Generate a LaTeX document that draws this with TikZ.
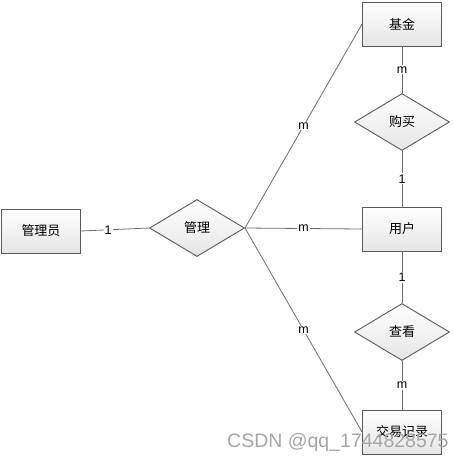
\documentclass[tikz,border=0pt]{standalone}
\usepackage{fontspec}
\setmainfont{Liberation Sans}
\newfontfamily\cjk{Noto Sans CJK SC}
\usetikzlibrary{shapes.geometric}
\definecolor{edgec}{HTML}{6E6E6E}
\definecolor{boxc}{HTML}{5A5A5A}
\tikzset{
  x=1pt, y=-1pt,
  ent/.style={draw=boxc, line width=0.9pt, top color=white, bottom color=black!10, minimum width=79pt, minimum height=44pt, inner sep=0pt, font=\cjk\fontsize{13}{13}\selectfont},
  rel/.style={diamond, draw=boxc, line width=0.9pt, top color=white, bottom color=black!10, minimum width=95pt, minimum height=57pt, inner sep=0pt, shape aspect=1.67, font=\cjk\fontsize{13}{13}\selectfont},
  conn/.style={draw=edgec, line width=0.8pt},
  card/.style={fill=white, inner sep=1pt, font=\fontsize{12.5}{12.5}\selectfont, text=black}
}
\begin{document}
\begin{tikzpicture}
\useasboundingbox (0,0) rectangle (454,459);
\node[ent] (admin) at (41,231) {管理员};
\node[rel] (manage) at (197,228) {管理};
\node[ent] (fund) at (402,24) {基金};
\node[rel] (buy) at (402,122) {购买};
\node[ent] (user) at (402,229) {用户};
\node[rel] (view) at (402,332) {查看};
\node[ent] (trade) at (402,432) {交易记录};
\coordinate (mtip) at (245,228);
\draw[conn] (admin.east) -- node[card, pos=0.4] {1} (manage.west);
\draw[conn] (mtip) -- node[card, pos=0.5] {m} (user.west);
\draw[conn] (mtip) -- node[card, pos=0.5] {m} (fund.west);
\draw[conn] (mtip) -- node[card, pos=0.5] {m} (trade.west);
\draw[conn] (fund.south) -- node[card, pos=0.5] {m} (buy.north);
\draw[conn] (buy.south) -- node[card, pos=0.5] {1} (user.north);
\draw[conn] (user.south) -- node[card, pos=0.5] {1} (view.north);
\draw[conn] (view.south) -- node[card, pos=0.5] {m} (trade.north);
\node[text=black!35, font=\fontsize{19.5}{19.5}\selectfont, anchor=base west, inner sep=0pt] (wm) at (227,447) {CSDN @qq\_1744828575};
\end{tikzpicture}
\end{document}
